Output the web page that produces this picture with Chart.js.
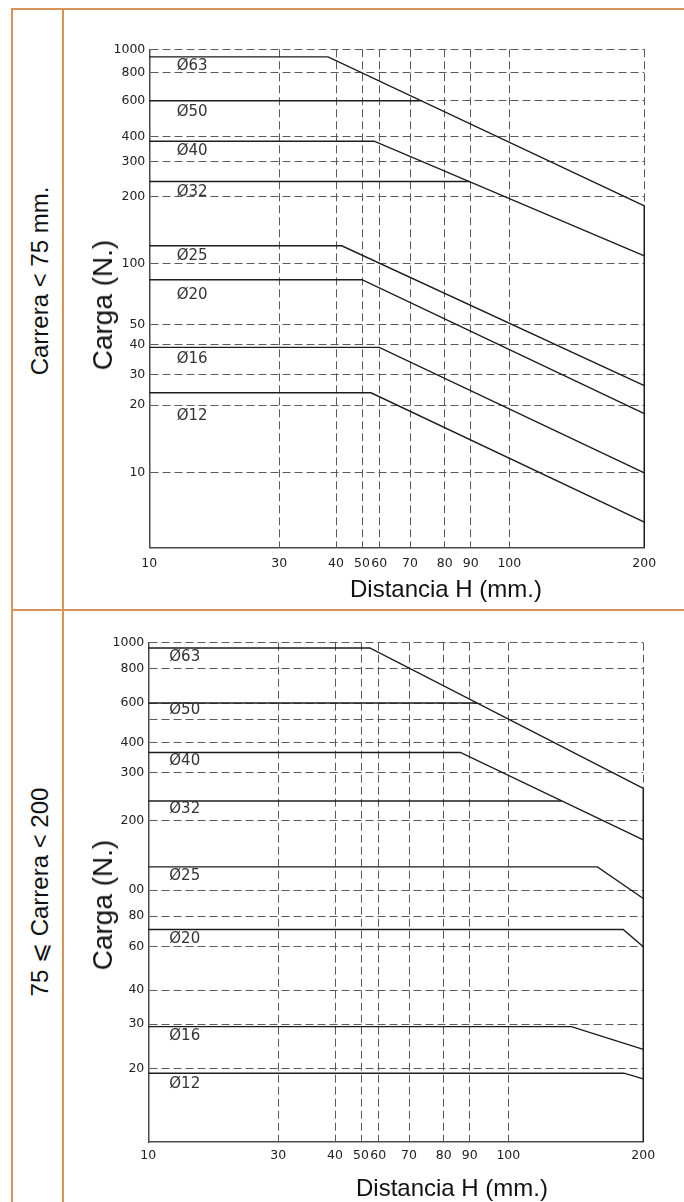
<!DOCTYPE html>
<html>
<head>
<meta charset="utf-8">
<script src="https://cdn.jsdelivr.net/npm/chart.js@4.4.0/dist/chart.umd.min.js"></script>
<style>
    body { margin: 0; background: #fff; }
    #pagina { position: relative; width: 684px; height: 1202px; overflow: hidden; font-family: "Liberation Sans", Arial, sans-serif; color: #111; }
    .linha { position: absolute; background: #d8925a; }
    .texto { position: absolute; white-space: nowrap; transform: translate(-50%, -50%); }
    .vertical { transform: translate(-50%, -50%) rotate(-90deg); }
    canvas { position: absolute; }
</style>
</head>
<body>
<div id="pagina">
    <div class="linha" style="left:11px;top:8px;width:673px;height:2px"></div>
    <div class="linha" style="left:11px;top:8px;width:2px;height:1194px"></div>
    <div class="linha" style="left:62px;top:8px;width:2px;height:1194px"></div>
    <div class="linha" style="left:11px;top:609px;width:673px;height:2px"></div>

    <div class="texto vertical" style="left:40px;top:281px;font-size:24px">Carrera &lt; 75 mm.</div>
    <div class="texto vertical" style="left:40px;top:892px;font-size:24px">75 ⩽ Carrera &lt; 200</div>

    <canvas id="graficoCorta" width="620" height="599" style="left:64px;top:10px;width:620px;height:599px"></canvas>
    <canvas id="graficoLarga" width="620" height="591" style="left:64px;top:611px;width:620px;height:591px"></canvas>

    <div class="texto vertical" style="left:103px;top:305px;font-size:28px">Carga (N.)</div>
    <div class="texto vertical" style="left:103px;top:905px;font-size:28px">Carga (N.)</div>
    <div class="texto" style="left:446px;top:589px;font-size:24px">Distancia H (mm.)</div>
    <div class="texto" style="left:452px;top:1188px;font-size:24px">Distancia H (mm.)</div>
</div>

<script>
// valores
const distancias = [10, 30, 40, 50, 60, 70, 80, 90, 100, 200]
const diametros = ['Ø63', 'Ø50', 'Ø40', 'Ø32', 'Ø25', 'Ø20', 'Ø16', 'Ø12']

// Carrera < 75 mm.
const cortaH = [[10, 38.6, 200], [10, 73], [10, 57, 200], [10, 89.5], [10, 42.2, 200], [10, 50, 200], [10, 60, 200], [10, 55.2, 200]]
const cortaCarga = [[930, 930, 182], [600, 600], [378, 378, 108], [238, 238], [120, 120, 26], [83, 83, 18.3], [39, 39, 9.95], [23.6, 23.6, 5.8]]
const cortaTicks = [10, 20, 30, 40, 50, 100, 200, 300, 400, 600, 800, 1000]
const cortaEtiquetas = ['10', '20', '30', '40', '50', '100', '200', '300', '400', '600', '800', '1000']

// 75 <= Carrera < 200
const largaH = [[10, 55.1, 200], [10, 91.8], [10, 86.4, 200], [10, 139.5], [10, 166, 200], [10, 185.1, 200], [10, 146.7, 200], [10, 185.6, 200]]
const largaCarga = [[955, 955, 262], [600, 600], [363, 363, 165], [236, 236], [126, 126, 93], [70.5, 70.5, 60], [29.3, 29.3, 23.8], [19.1, 19.1, 18.1]]
const largaTicks = [20, 30, 40, 60, 80, 100, 200, 300, 400, 500, 600, 800, 1000]
const largaEtiquetas = ['20', '30', '40', '60', '80', '00', '200', '300', '400', '', '600', '800', '1000']

// geometria da grade do desenho original (0 = início do eixo, 1 = fim)
const fracaoX = [0, 0.2626, 0.3772, 0.4297, 0.4646, 0.5267, 0.5968, 0.6493, 0.7273, 1]
const cortaMinimo = 4.4
const cortaFracaoY = [0, 0.1506, 0.2857, 0.3460, 0.4068, 0.4478, 0.5703, 0.7040, 0.7751, 0.8253, 0.8968, 0.9530, 1]
const largaMinimo = 10
const largaFracaoY = [0, 0.1476, 0.2363, 0.3044, 0.3912, 0.4526, 0.5047, 0.6435, 0.7404, 0.8005, 0.8452, 0.8792, 0.9487, 1]

// escala por trechos: o eixo do desenho não é linear nem log
class EscalaTrechos extends Chart.Scale {
    determineDataLimits() {
        const a = this.options.ancoras
        this.min = a[0]
        this.max = a[a.length - 1]
    }
    buildTicks() {
        return this.options.valores.map(v => ({ value: v }))
    }
    getLabelForValue(value) {
        return String(value)
    }
    paraDecimal(value) {
        const a = this.options.ancoras
        const f = this.options.fracoes
        const t = this.options.log ? Math.log : (v) => v
        let i = 1
        while (i < a.length - 1 && value > a[i]) i++
        const lo = t(a[i - 1]), hi = t(a[i])
        return f[i - 1] + (t(value) - lo) / (hi - lo) * (f[i] - f[i - 1])
    }
    getPixelForValue(value) {
        return this.getPixelForDecimal(this.paraDecimal(value))
    }
    getValueForPixel(pixel) {
        let d = (pixel - this._startPixel) / this._length
        if (this._reversePixels) d = 1 - d
        const a = this.options.ancoras
        const f = this.options.fracoes
        let i = 1
        while (i < f.length - 1 && d > f[i]) i++
        const k = (d - f[i - 1]) / (f[i] - f[i - 1])
        if (this.options.log) return Math.exp(Math.log(a[i - 1]) + k * (Math.log(a[i]) - Math.log(a[i - 1])))
        return a[i - 1] + k * (a[i] - a[i - 1])
    }
}
EscalaTrechos.id = 'trechos'
EscalaTrechos.defaults = {}
Chart.register(EscalaTrechos)

Grafico('graficoCorta', cortaH, cortaCarga, cortaTicks, cortaEtiquetas, cortaMinimo, cortaFracaoY,
    { esquerda: 85.3, topo: 39.3, direita: 39.7, baixo: 61.7, padX: 9, rotuloX: 27.4, rotuloDy: [9, 11, 10, 11, 10.5, 15.7, 12, 23] })
Grafico('graficoLarga', largaH, largaCarga, largaTicks, largaEtiquetas, largaMinimo, largaFracaoY,
    { esquerda: 84.3, topo: 31.7, direita: 40.7, baixo: 60, padX: 6, rotuloX: 21, rotuloDy: [8.7, 7, 8.7, 8.3, 9.3, 10, 10, 11] })

function Grafico(id, hs, cargas, ticks, etiquetas, minimo, fracaoY, lay) {

    var datasets = hs.map((h, i) => ({
        label: diametros[i],
        data: h.map((x, j) => ({ x: x, y: cargas[i][j] })),
        borderColor: '#1c1c1c',
        borderWidth: 1.4,
        pointRadius: 0,
        tension: 0,
        fill: false
    }))

    // borda direita contínua em H = 200
    var ultima = cargas[0][cargas[0].length - 1]
    datasets.push({
        label: '',
        data: [{ x: 200, y: ultima }, { x: 200, y: minimo }],
        borderColor: '#1c1c1c',
        borderWidth: 1.6,
        pointRadius: 0,
        fill: false
    })

    var rotulos = {
        id: 'rotulos',
        afterDatasetsDraw(chart) {
            const ctx = chart.ctx
            const y = chart.scales.y
            ctx.save()
            ctx.font = '15px "DejaVu Sans"'
            ctx.fillStyle = '#333'
            ctx.textBaseline = 'middle'
            diametros.forEach((d, i) => {
                const py = y.getPixelForValue(cargas[i][0]) + lay.rotuloDy[i]
                ctx.fillText(d, chart.chartArea.left + lay.rotuloX, py)
            })
            ctx.restore()
        }
    }

    var grade = { color: '#5a5a5a', lineWidth: 1, drawTicks: false }
    var borda = { color: '#4a4a4a', width: 1.5, dash: [8, 4] }
    var fonte = { family: 'DejaVu Sans', size: 12.5 }

    var ctx = document.getElementById(id).getContext('2d')
    var grafico = new Chart(ctx, {
        type: 'line',
        data: { datasets: datasets },
        plugins: [rotulos],
        options: {
            responsive: false,
            animation: false,
            layout: { padding: { left: 0, top: lay.topo, right: lay.direita, bottom: 0 } },
            plugins: { legend: { display: false }, tooltip: { enabled: false } },
            scales: {
                x: {
                    type: 'trechos',
                    position: 'bottom',
                    ancoras: distancias,
                    fracoes: fracaoX,
                    valores: distancias,
                    log: false,
                    grid: grade,
                    border: borda,
                    ticks: { autoSkip: false, maxRotation: 0, padding: lay.padX, color: '#222', font: fonte },
                    afterFit: (s) => { s.height = lay.baixo }
                },
                y: {
                    type: 'trechos',
                    position: 'left',
                    ancoras: [minimo].concat(ticks),
                    fracoes: fracaoY,
                    valores: ticks,
                    log: true,
                    grid: grade,
                    border: borda,
                    ticks: { autoSkip: false, padding: 4, color: '#222', font: fonte, callback: (v, i) => etiquetas[i] },
                    afterFit: (s) => { s.width = lay.esquerda }
                }
            }
        }
    })
}
</script>
</body>
</html>
